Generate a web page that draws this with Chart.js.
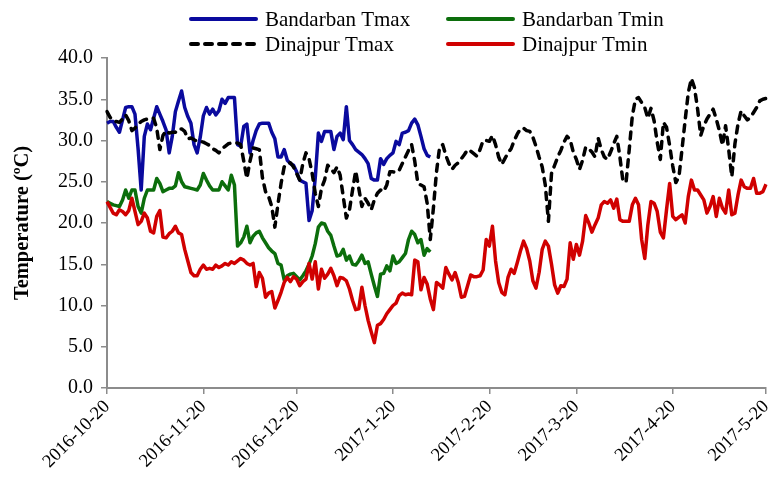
<!DOCTYPE html>
<html><head><meta charset="utf-8">
<script src="https://cdn.jsdelivr.net/npm/chart.js@4"></script>
<style>html,body{margin:0;padding:0;background:#fff}#wrap{width:770px;height:486px;position:relative}</style>
</head><body><div id="wrap"><canvas id="c" width="770" height="486"></canvas></div>
<script>
// ---- data ----
const startDate = [2016, 10, 20];
const dayCount = 213;
const tickLabels = ['2016-10-20','2016-11-20','2016-12-20','2017-1-20','2017-2-20','2017-3-20','2017-4-20','2017-5-20'];
const seriesNames = ['Bandarban Tmax','Bandarban Tmin','Dinajpur Tmax','Dinajpur Tmin'];

const bandarbanTmax = [
32.1,32.3,32.3,31.6,31.0,32.5,34.0,34.1,34.1,33.2,
29.0,24.0,30.5,32.0,31.3,32.7,34.1,33.2,32.3,31.3,
28.5,30.5,33.5,34.8,36.0,34.0,32.9,32.1,29.5,28.5,
30.4,33.0,34.0,33.2,33.8,33.1,33.6,35.0,34.5,35.2,
35.2,35.2,29.5,29.3,31.7,32.0,28.5,30.0,31.2,32.0,
32.1,32.1,32.1,31.0,30.2,28.0,28.0,28.9,27.6,27.2,
27.0,26.2,25.2,25.0,24.8,20.3,21.5,25.5,30.9,29.9,
31.1,31.1,31.1,28.9,30.5,30.9,30.1,34.1,30.0,29.5,
28.9,28.6,28.3,27.8,27.2,25.4,25.2,25.2,27.8,27.1,
27.8,28.2,28.5,29.9,29.5,30.9,31.0,31.2,32.1,32.6,
31.9,30.5,29.0,28.2,28.0];

const bandarbanTmin = [
22.6,22.4,22.2,22.1,22.0,22.8,24.0,23.0,24.0,24.0,
22.0,21.2,23.0,24.0,24.0,24.0,25.4,24.8,23.8,24.0,
24.2,24.2,24.5,26.1,25.0,24.4,24.3,24.2,24.1,24.0,
24.6,26.0,25.2,24.5,24.0,24.0,24.0,25.0,24.5,24.0,
25.8,24.6,17.2,17.6,18.3,19.6,17.6,18.4,18.8,19.0,
18.2,17.6,17.0,16.6,16.3,15.1,14.9,13.1,13.6,13.8,
13.9,13.5,13.1,13.6,14.2,15.0,16.0,17.5,19.5,20.0,
19.9,19.0,18.5,17.2,16.0,16.1,16.8,15.5,16.0,15.0,
14.9,15.4,16.1,15.1,15.3,13.8,12.4,11.1,13.8,13.9,
14.8,14.2,16.0,15.1,15.3,15.8,16.3,18.0,19.0,18.6,
17.6,18.0,16.1,16.9,16.5];

const dinajpurTmax = [
33.5,32.8,32.4,32.3,32.2,32.6,33.1,32.4,31.2,31.5,
32.0,32.3,32.5,32.6,32.6,32.7,31.5,28.9,30.6,31.2,
30.9,31.0,31.0,31.4,31.4,31.1,30.2,30.3,30.1,29.9,
29.9,29.8,29.6,29.4,29.0,28.8,28.5,29.0,29.3,29.6,
29.7,29.7,29.7,29.5,27.5,25.4,27.5,29.1,29.0,28.9,
25.5,23.8,23.2,22.0,19.5,22.3,24.8,26.8,27.2,27.3,
26.8,26.0,25.2,27.2,28.5,27.8,26.0,23.6,22.0,24.2,
25.2,27.0,26.6,26.1,26.8,25.8,23.2,20.6,21.6,24.0,
26.3,24.2,22.0,23.0,22.4,21.6,22.8,23.6,24.0,23.8,
24.6,26.2,26.2,26.1,26.4,27.2,28.0,28.8,29.5,27.5,
24.8,24.6,24.4,22.4,18.0,21.8,26.2,29.2,29.5,28.2,
27.2,26.5,27.0,27.3,27.8,28.3,28.9,28.7,28.4,28.1,
28.9,30.0,30.0,29.9,30.6,29.5,28.0,27.1,27.8,28.5,
29.0,30.0,30.8,31.4,31.5,31.2,31.1,30.4,29.3,28.0,
26.8,24.6,20.2,26.0,27.0,28.0,28.8,29.8,30.5,30.1,
28.6,27.7,26.5,27.6,29.2,29.0,28.6,28.0,30.3,28.9,
28.0,27.7,28.6,29.6,30.5,28.0,25.0,25.0,28.9,33.0,
35.0,35.2,34.6,34.0,32.7,33.9,32.4,29.8,27.7,32.2,
31.6,29.4,26.9,24.9,25.6,29.0,32.5,35.8,37.5,36.4,
33.8,30.6,31.8,32.6,33.2,33.8,32.6,31.2,29.4,31.8,
28.9,25.6,29.6,32.0,33.6,33.0,32.5,32.8,33.4,34.0,
34.8,35.0,35.1];

const dinajpurTmin = [
22.6,21.9,21.2,21.0,21.6,21.4,21.0,21.5,23.0,21.4,
19.8,20.2,21.2,20.6,19.0,18.8,20.8,21.5,18.3,18.2,
18.7,19.0,19.6,18.8,18.6,16.8,15.4,14.0,13.6,13.6,
14.4,14.9,14.4,14.5,14.4,14.9,14.6,14.8,15.1,14.9,
15.3,15.1,15.4,15.7,15.5,15.1,14.9,15.1,12.3,14.0,
13.3,11.0,11.5,11.7,9.7,10.6,11.6,12.8,13.4,12.9,
13.5,13.2,12.4,12.9,13.2,15.1,13.2,15.3,12.0,14.4,
13.3,13.8,14.5,13.6,12.4,13.4,13.3,13.0,12.0,10.6,
9.5,9.6,12.2,10.0,8.2,6.8,5.5,7.6,7.8,8.3,
9.0,9.5,10.0,10.3,11.2,11.5,11.3,11.4,11.3,15.5,
15.3,11.9,13.4,12.6,10.8,9.5,12.8,12.5,12.1,14.6,
13.8,13.1,14.0,12.8,11.0,11.1,12.4,13.7,13.5,13.5,
13.6,14.3,18.0,17.2,19.6,15.4,12.8,11.6,11.3,13.4,
14.4,13.9,15.2,16.6,17.8,16.9,15.4,13.0,12.1,14.0,
16.8,17.8,17.2,15.0,12.5,11.5,12.4,12.3,13.2,17.6,
15.6,17.4,16.1,17.8,20.9,20.0,18.9,19.8,20.6,22.2,
22.6,22.4,22.8,21.8,22.9,20.4,20.2,20.2,20.2,22.2,
23.0,22.2,18.0,15.7,19.8,22.6,22.4,21.4,18.9,18.2,
21.6,24.8,20.8,20.4,20.7,21.0,20.0,23.2,25.2,24.0,
24.0,23.4,22.8,21.2,22.0,23.2,20.8,23.0,21.8,21.2,
24.0,21.0,21.2,23.4,25.2,24.4,24.2,24.2,25.4,23.6,
23.6,23.8,24.7];

// ---- build date labels ----
const labels = [];
const t0 = Date.UTC(startDate[0], startDate[1]-1, startDate[2]);
for (let i = 0; i < dayCount; i++) {
  const d = new Date(t0 + i*86400000);
  labels.push(d.getUTCFullYear() + '-' + (d.getUTCMonth()+1) + '-' + d.getUTCDate());
}

const FONT = 'Liberation Serif';
const AXIS = '#8c8c8c';
const colors = ['#0a0a9e', '#0c6e0c', '#000000', '#d00000'];
const dashes = [[], [], [7,7], []];
const seriesData = [bandarbanTmax, bandarbanTmin, dinajpurTmax, dinajpurTmin];
const drawOrder = [3, 2, 1, 0];

const datasets = seriesData.map((arr, i) => ({
  label: seriesNames[i],
  data: arr,
  borderColor: colors[i],
  backgroundColor: colors[i],
  borderWidth: 3.5,
  borderDash: dashes[i],
  borderCapStyle: i === 2 ? 'round' : 'butt',
  borderJoinStyle: 'round',
  pointRadius: 0,
  pointHoverRadius: 0,
  tension: 0,
  fill: false,
  order: drawOrder[i]
}));

const legendPlugin = {
  id: 'gridLegend',
  afterDraw(chart) {
    const ctx = chart.ctx;
    const colX = [189, 446];
    const rowY = [19, 44];
    const lineLen = 67;
    ctx.save();
    chart.data.datasets.forEach((ds, i) => {
      const x = colX[i % 2], y = rowY[Math.floor(i / 2)];
      ctx.beginPath();
      ctx.strokeStyle = ds.borderColor;
      ctx.lineWidth = 4;
      ctx.lineCap = 'round';
      ctx.setLineDash(i === 2 ? [7, 7] : []);
      ctx.moveTo(x + 2, y); ctx.lineTo(x + lineLen, y);
      ctx.stroke();
      ctx.setLineDash([]);
      ctx.fillStyle = '#000';
      ctx.font = '21px "' + FONT + '"';
      ctx.textBaseline = 'middle';
      ctx.textAlign = 'left';
      ctx.fillText(ds.label, x + 76, y + 1);
    });
    ctx.restore();
  }
};

new Chart(document.getElementById('c'), {
  type: 'line',
  data: { labels, datasets },
  plugins: [legendPlugin],
  options: {
    responsive: false,
    animation: false,
    devicePixelRatio: 1,
    layout: { padding: { left: 10, right: 4, top: 58, bottom: 0 } },
    plugins: { legend: { display: false }, tooltip: { enabled: false } },
    scales: {
      x: {
        type: 'category',
        offset: false,
        border: { display: true, color: AXIS, width: 2 },
        grid: {
          drawOnChartArea: false, drawTicks: true, tickLength: 6, lineWidth: 1.5,
          color: (c) => (c.tick && tickLabels.includes(c.tick.label)) ? AXIS : 'rgba(0,0,0,0)'
        },
        ticks: {
          autoSkip: false, maxRotation: 45, minRotation: 45, padding: 2,
          color: '#000', font: { family: FONT, size: 18.5 },
          callback: function (v) { const l = this.getLabelForValue(v); return tickLabels.includes(l) ? l : null; }
        },
        afterFit(s) { s.height = 486 - 388; s.paddingLeft = 0; s.paddingRight = 0; }
      },
      y: {
        min: 0, max: 40,
        border: { display: true, color: AXIS, width: 2 },
        grid: { drawOnChartArea: false, drawTicks: true, tickLength: 6, color: AXIS, lineWidth: 1.5 },
        ticks: { stepSize: 5, padding: 8, color: '#000', font: { family: FONT, size: 20 }, callback: (v) => Number(v).toFixed(1) },
        title: { display: true, text: 'Temperature (ºC)', color: '#000', font: { family: FONT, size: 20.5, weight: 'bold' }, padding: { top: 0, bottom: 0 } },
        afterFit(s) { s.width = 107 - 10; }
      }
    }
  }
});
</script>
</body></html>
